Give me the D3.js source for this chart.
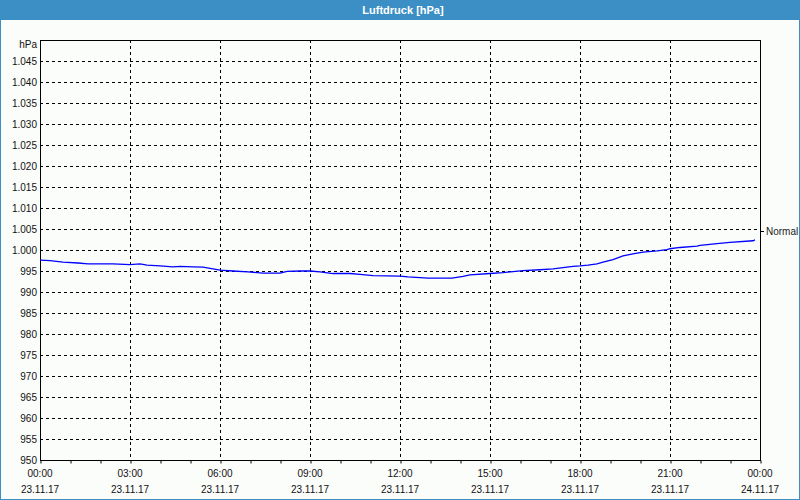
<!DOCTYPE html>
<html>
<head>
<meta charset="utf-8">
<script src="https://cdn.jsdelivr.net/npm/d3@7"></script>
<style>
    body { margin: 0; background: #fff; }
    svg { display: block; font-family: "Liberation Sans", Arial, sans-serif; }
</style>
</head>
<body>
<div id="chart"></div>
<script>
// Luftdruck 23.11.17
let times = ["00:00", "00:20", "00:46", "01:16", "01:36", "02:26", "03:00", "03:20", "03:34", "04:00",
    "04:26", "04:40", "05:06", "05:26", "05:46", "06:00", "06:26", "06:56", "07:26", "08:00",
    "08:14", "08:40", "09:00", "09:20", "09:46", "10:20", "10:40", "11:06", "12:00", "12:16",
    "12:56", "13:44", "14:06", "14:20", "15:00", "15:26", "16:06", "16:40", "17:06", "17:26",
    "17:46", "18:00", "18:16", "18:34", "18:46", "19:06", "19:26", "19:46", "20:06", "20:34",
    "20:54", "21:00", "21:20", "21:54", "22:00", "22:34", "23:00", "23:46", "23:50"]
let pressure = [997.6, 997.45, 997.1, 996.9, 996.7, 996.7, 996.5, 996.7, 996.4, 996.2,
    996.0, 996.1, 996.0, 995.9, 995.5, 995.2, 995.0, 994.8, 994.5, 994.5,
    994.9, 995.0, 995.0, 994.8, 994.4, 994.4, 994.2, 993.9, 993.8, 993.6,
    993.3, 993.3, 993.7, 994.1, 994.4, 994.6, 995.1, 995.3, 995.5, 995.8,
    996.1, 996.2, 996.4, 996.7, 997.1, 997.7, 998.6, 999.1, 999.5, 999.8,
    1000.1, 1000.3, 1000.6, 1000.9, 1001.1, 1001.5, 1001.8, 1002.2, 1002.4]
let yTicks = [950, 955, 960, 965, 970, 975, 980, 985, 990, 995, 1000, 1005,
    1010, 1015, 1020, 1025, 1030, 1035, 1040, 1045]
let title = "Luftdruck [hPa]"
let unit = "hPa"
let seriesName = "Normal"

let width = 800
let height = 500
let margin = { top: 40, right: 40, bottom: 40, left: 40 }
let frameColor = "#3c8fc5"

let parseTime = d3.timeParse("%d.%m.%Y %H:%M")
let data = times.map((t, i) => ({ date: parseTime("23.11.2017 " + t), value: pressure[i] }))

let locale = d3.formatLocale({ decimal: ",", thousands: ".", grouping: [3], currency: ["", "€"] })
let formatNum = locale.format(",d")
let formatHour = d3.timeFormat("%H:%M")
let formatDay = d3.timeFormat("%d.%m.%y")

let svg = d3.select("#chart")
    .append("svg")
    .attr("width", width)
    .attr("height", height)

// background and frame
svg.append("rect")
    .attr("x", 0.5).attr("y", 0.5)
    .attr("width", width - 1).attr("height", height - 1)
    .attr("fill", "#fbfdfb")
    .attr("stroke", frameColor)

svg.append("rect")
    .attr("x", 0).attr("y", 0)
    .attr("width", width).attr("height", 20)
    .attr("fill", frameColor)

svg.append("text")
    .attr("x", width / 2 + 3)
    .attr("y", 14)
    .attr("text-anchor", "middle")
    .attr("fill", "#fff")
    .style("font-size", "11px")
    .style("font-weight", "bold")
    .text(title)

var xScale = d3
    .scaleTime()
    .domain([parseTime("23.11.2017 00:00"), parseTime("24.11.2017 00:00")])
    .range([margin.left, width - margin.right]);

var yScale = d3
    .scaleLinear()
    .domain([950, 1050])
    .range([height - margin.bottom, margin.top]);

let crisp = v => Math.round(v) + 0.5

// horizontal grid
svg.append("g")
    .selectAll("line")
    .data(yTicks.filter(d => d > 950))
    .join("line")
    .attr("x1", margin.left)
    .attr("x2", width - margin.right)
    .attr("y1", d => crisp(yScale(d)))
    .attr("y2", d => crisp(yScale(d)))
    .attr("stroke", "#000")
    .attr("stroke-dasharray", "3,3")

// vertical grid
let majorTimes = xScale.ticks(d3.timeHour.every(3))
svg.append("g")
    .selectAll("line")
    .data(majorTimes.slice(1, -1))
    .join("line")
    .attr("x1", d => crisp(xScale(d)))
    .attr("x2", d => crisp(xScale(d)))
    .attr("y1", margin.top)
    .attr("y2", height - margin.bottom)
    .attr("stroke", "#000")
    .attr("stroke-dasharray", "3,3")

// plot border
svg.append("rect")
    .attr("x", margin.left + 0.5)
    .attr("y", margin.top + 0.5)
    .attr("width", width - margin.left - margin.right)
    .attr("height", height - margin.top - margin.bottom)
    .attr("fill", "none")
    .attr("stroke", "#000")

// x axis: hourly ticks, labels every 3 hours
var xAxis = d3
    .axisBottom()
    .scale(xScale)
    .ticks(d3.timeHour.every(1))
    .tickSize(3)
    .tickFormat("");

var xAxisEl = svg
    .append("g")
    .attr("transform", `translate(0.5, ${height - margin.bottom + 0.5})`)
    .call(xAxis);
xAxisEl.select(".domain").remove()
xAxisEl.selectAll(".tick line").attr("stroke", "#000")

let xLabels = svg.append("g")
    .selectAll("g")
    .data(majorTimes)
    .join("g")
    .attr("transform", d => `translate(${xScale(d)},0)`)
    .style("font-size", "10px")
    .attr("fill", "#111")
    .attr("text-anchor", "middle")
xLabels.append("text").attr("y", 477).text(d => formatHour(d))
xLabels.append("text").attr("y", 493).text(d => formatDay(d))

// y axis labels
var yAxis = d3
    .axisLeft()
    .scale(yScale)
    .tickValues(yTicks)
    .tickSize(0)
    .tickPadding(3)
    .tickFormat(formatNum);

var yAxisEl = svg
    .append("g")
    .attr("transform", `translate(${margin.left},0)`)
    .call(yAxis);
yAxisEl.select(".domain").remove()
yAxisEl.selectAll("text")
    .style("font-size", "10px")
    .style("font-family", "Liberation Sans, Arial, sans-serif")
    .attr("fill", "#111")

svg.append("text")
    .attr("x", margin.left - 3)
    .attr("y", 48)
    .attr("text-anchor", "end")
    .style("font-size", "10px")
    .attr("fill", "#111")
    .text(unit)

// series line
let line = d3.line()
    .x(d => xScale(d.date))
    .y(d => yScale(d.value))

svg.append("path")
    .datum(data)
    .attr("d", line)
    .attr("fill", "none")
    .attr("stroke", "#0000ff")
    .attr("stroke-width", 1.3)

// legend on the right
let legendY = crisp(yScale(1004.5))
svg.append("line")
    .attr("x1", width - margin.right + 1)
    .attr("x2", width - margin.right + 4)
    .attr("y1", legendY)
    .attr("y2", legendY)
    .attr("stroke", "#000")

svg.append("text")
    .attr("x", width - margin.right + 6)
    .attr("y", legendY + 3.5)
    .style("font-size", "10px")
    .attr("fill", "#222")
    .text(seriesName)
</script>
</body>
</html>
